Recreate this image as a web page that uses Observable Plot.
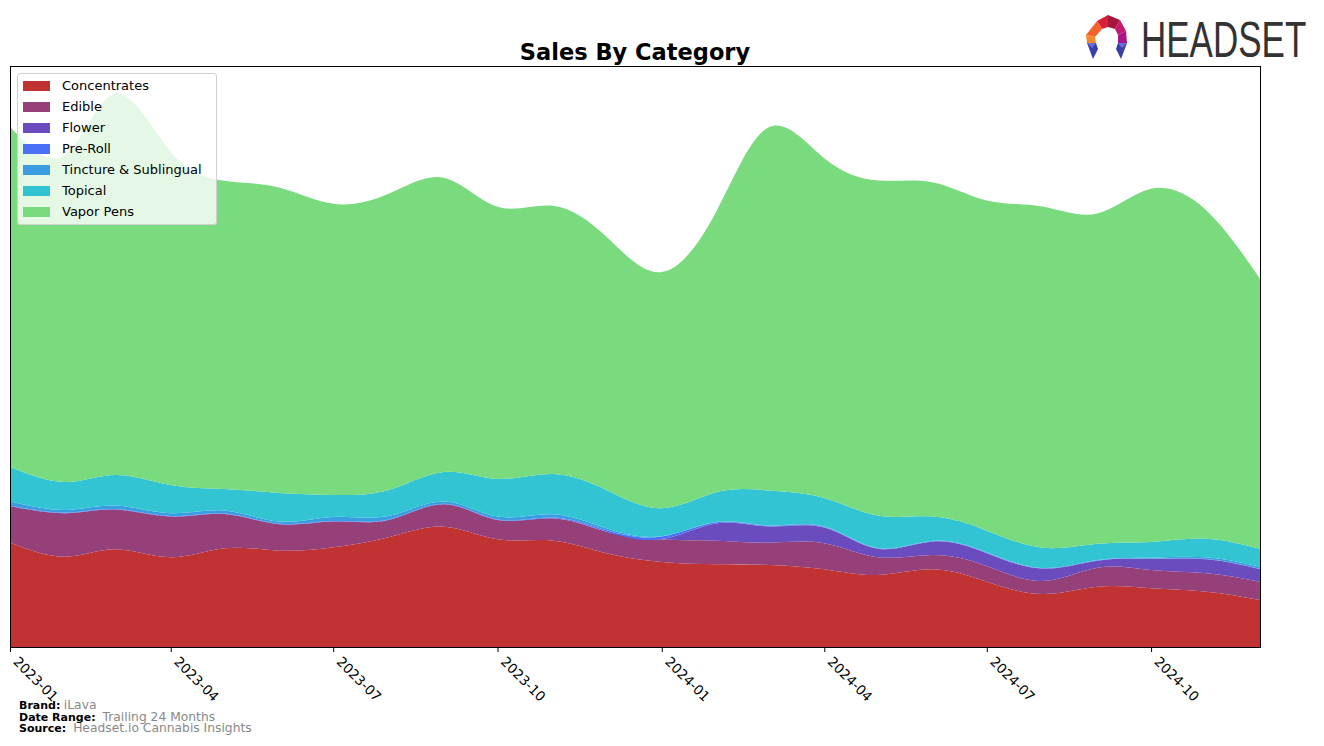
<!DOCTYPE html>
<html>
<head>
<meta charset="utf-8">
<script src="https://cdn.jsdelivr.net/npm/d3@7"></script>
<script src="https://cdn.jsdelivr.net/npm/@observablehq/plot@0.6"></script>
<style>
  body { margin: 0; background: #fff; font-family: "DejaVu Sans", sans-serif; }
  #wrap { position: relative; width: 1324px; height: 746px; overflow: hidden; }
  #title { position: absolute; top: 39px; left: 0; width: 1270px; text-align: center; font-weight: bold; font-size: 22.5px; color: #000; }
  #chart { position: absolute; top: 60px; left: 0; }
  #legend { position: absolute; left: 17px; top: 73px; width: 198px; height: 150px; border: 1px solid #d0d0d0; border-radius: 3px; background: rgba(255,255,255,0.8); font-size: 13px; }
  .item { position: absolute; left: 5px; height: 14px; line-height: 14px; white-space: nowrap; color: #000; }
  .sw { display: inline-block; width: 27px; height: 10px; vertical-align: middle; margin-right: 12px; position: relative; top: -1px; }
  #footer { position: absolute; left: 19px; top: 700px; font-size: 11px; }
  #footer div { height: 11.7px; line-height: 11.7px; white-space: nowrap; }
  #footer b { color: #000; }
  #footer span { color: #888; font-size: 12.3px; }
  #logo { position: absolute; left: 1080px; top: 8px; }
</style>
</head>
<body>
<div id="wrap">
  <div id="title">Sales By Category</div>
  <div id="chart"></div>
  <div id="legend"></div>
  <div id="footer">
    <div><b>Brand:</b> <span>iLava</span></div>
    <div><b>Date Range:</b>&nbsp; <span>Trailing 24 Months</span></div>
    <div><b>Source:</b>&nbsp; <span>Headset.io Cannabis Insights</span></div>
  </div>
  <svg id="logo" width="236" height="60" viewBox="0 0 236 60">
    <polygon points="17,13 28,7 28,19 22,21" fill="#d81f3a"/>
    <polygon points="28,7 40,12 35,21 28,19" fill="#a5173a"/>
    <polygon points="40,12 46,23 38,27 35,21" fill="#c21a6e"/>
    <polygon points="17,13 22,21 15,29 6,27" fill="#f2622c"/>
    <polygon points="6,27 15,29 16,35 7,35" fill="#f08a2c"/>
    <polygon points="46,23 47,35 38,35 38,27" fill="#a8178a"/>
    <polygon points="7,35 16,35 18,41 13,51" fill="#3a3fa8"/>
    <polygon points="38,35 47,35 41,51 36,41" fill="#3a3fa8"/>
    <polygon points="7,35 16,35 12,40" fill="#6b6ee0"/>
    <polygon points="38,35 47,35 42,40" fill="#6b6ee0"/>
    <g transform="translate(61,49) scale(1,1.45)">
      <text x="0" y="0" font-family="Liberation Sans, sans-serif" font-size="35" fill="#333">HEADSET</text>
    </g>
  </svg>
</div>
<script>
const months = ["2023-01","2023-02","2023-03","2023-04","2023-05","2023-06","2023-07","2023-08","2023-09","2023-10","2023-11","2023-12",
                "2024-01","2024-02","2024-03","2024-04","2024-05","2024-06","2024-07","2024-08","2024-09","2024-10","2024-11","2024-12"];
const categories = ["Concentrates","Edible","Flower","Pre-Roll","Tincture & Sublingual","Topical","Vapor Pens"];
const colors = ["#c13232","#96407a","#6b4cbe","#4a70f5","#3a9de2","#32c4d3","#7adb7e"];

const concentrates = [104.3, 90.3, 97.7, 89.7, 98.7, 96.3, 99.7, 109.7, 120.3, 107.7, 106.3, 93.7, 85, 82.7, 82, 77.7, 72, 77.7, 65.3, 53, 60.3, 58.7, 55.3, 47];
const edible       = [36.7, 43.4, 39.6, 40.6, 34.3, 26.4, 25.6, 17.3, 22.4, 19.3, 22.4, 21.6, 22.4, 23.6, 22.3, 26, 17.7, 14.3, 15.7, 13, 19, 18.3, 18.4, 18.3];
const flower       = [0, 0, 0, 0, 0, 0, 0, 0, 0, 0, 0, 0, 0.5, 17.5, 16.2, 15.8, 8.5, 13.5, 12.8, 12.4, 7, 11, 14, 12.5];
const preRoll      = [0.5, 0.5, 0.5, 0.5, 0.5, 0.5, 0.5, 0.5, 0.5, 0.5, 0.8, 1.5, 2.5, 0.8, 0.5, 0.5, 0.3, 0.3, 0.3, 0.3, 0.3, 0.3, 0.3, 0.3];
const tincture     = [3.8, 2.8, 3.5, 2.9, 2.8, 2.1, 4.2, 3.5, 2.1, 2.8, 3.2, 1.9, 0.3, 0.5, 0.5, 0.5, 0.5, 0.5, 0.5, 0.3, 0.4, 1.0, 1.6, 2.0];
const topical      = [34.7, 28, 30.7, 28.3, 21.7, 28.7, 22, 26, 29.7, 37.7, 40.3, 38.3, 28, 29.7, 35, 28.5, 32.3, 24, 21.7, 20.3, 16.3, 15.7, 18.7, 18];
const vaporPens    = [340, 327, 381, 333, 308, 305, 291, 296, 294, 272, 268, 253, 236, 282, 363, 339.5, 335, 334, 330, 341, 330, 353, 328, 270];

const series = [concentrates, edible, flower, preRoll, tincture, topical, vaporPens];
const parse = d3.utcParse("%Y-%m");
const data = [];
months.forEach((m, i) => {
  categories.forEach((c, k) => {
    data.push({date: parse(m), category: c, value: series[k][i]});
  });
});

const maxTotal = d3.max(months.map((m, i) => d3.sum(series, s => s[i])));
const tickEvery = d3.utcMonth.every(3);

const chart = Plot.plot({
  width: 1324,
  height: 667,
  marginTop: 6,
  marginBottom: 80,
  marginLeft: 10,
  marginRight: 64,
  style: {fontFamily: "DejaVu Sans, sans-serif", fontSize: "13.5px", color: "#000", background: "transparent"},
  x: {type: "utc", domain: [parse("2023-01"), parse("2024-12")]},
  y: {domain: [0, maxTotal * 1.05], axis: null},
  color: {domain: categories, range: colors},
  marks: [
    Plot.areaY(data, {x: "date", y: "value", fill: "category", z: "category", curve: "natural", order: categories}),
    Plot.frame({stroke: "#000", strokeWidth: 1}),
    Plot.axisX({ticks: tickEvery, tickFormat: () => "", tickSize: 5, label: null, stroke: "#000"}),
    Plot.axisX({ticks: tickEvery, tickFormat: d3.utcFormat("%Y-%m"), tickRotate: 45, tickSize: 0, tickPadding: 12, dx: 5, label: null, fontSize: 13.5, fill: "#000"})
  ]
});
document.getElementById("chart").appendChild(chart);

const legend = document.getElementById("legend");
categories.forEach((c, k) => {
  const it = document.createElement("div");
  it.className = "item";
  it.style.top = (5 + k * 21) + "px";
  it.innerHTML = `<span class="sw" style="background:${colors[k]}"></span>${c}`;
  legend.appendChild(it);
});
</script>
</body>
</html>
